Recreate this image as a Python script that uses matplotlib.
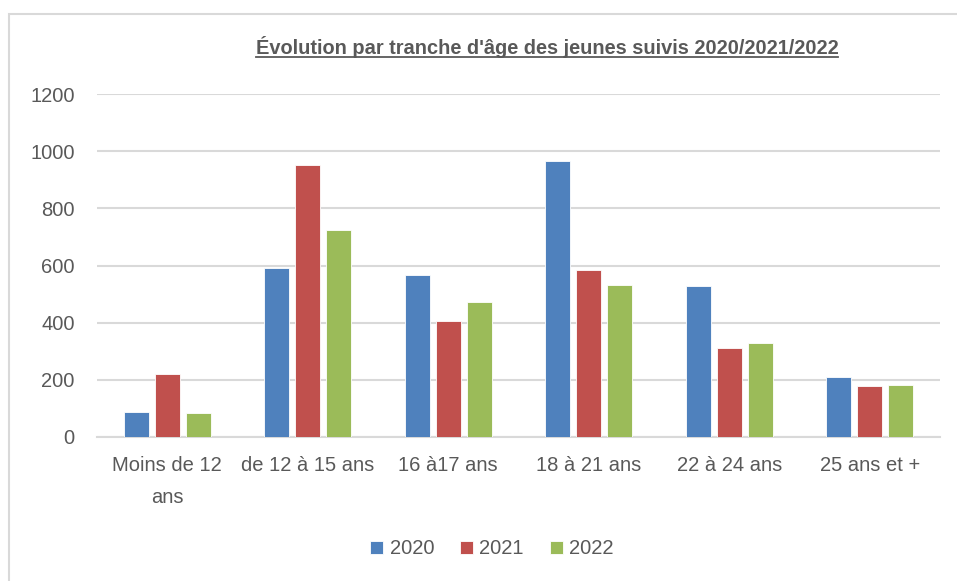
import numpy as np
import matplotlib.pyplot as plt
from matplotlib.lines import Line2D
from matplotlib.patches import Rectangle

categories = ['Moins de 12\nans', 'de 12 à 15 ans', '16 à17 ans', '18 à 21 ans', '22 à 24 ans', '25 ans et +']
years = ['2020', '2021', '2022']
v2020 = [89, 591, 567, 966, 528, 211]
v2021 = [220, 952, 406, 584, 310, 180]
v2022 = [85, 724, 471, 532, 330, 183]
colors = ['#4F81BD', '#C0504D', '#9BBB59']

txt = '#595959'
lbl_font = ['Liberation Sans', 'DejaVu Sans']
fs = 14.5

fig = plt.figure(figsize=(9.57, 5.81), dpi=100)
fig.patches.append(Rectangle((9 / 957, -0.1), 1.2, 1 - 14 / 581 + 0.1, transform=fig.transFigure,
                             fill=False, edgecolor='#D9D9D9', linewidth=1.5))
ax = fig.add_axes([97 / 957, 1 - 437 / 581, (940 - 97) / 957, (437 - 94) / 581])

x = np.arange(len(categories))
width = 0.178
step = 0.221
for i, (vals, c) in enumerate(zip([v2020, v2021, v2022], colors)):
    ax.bar(x + (i - 1) * step, vals, width, color=c, edgecolor='white', linewidth=0.6,
           label=years[i], zorder=3)

ax.set_xlim(-0.5, len(categories) - 0.5)
ax.set_ylim(0, 1200)
ax.set_yticks(range(0, 1201, 200))
ax.grid(axis='y', color='#D9D9D9', linewidth=1.5, zorder=0)
for s in ['top', 'right', 'left']:
    ax.spines[s].set_visible(False)
ax.spines['bottom'].set_color('#D9D9D9')
ax.spines['bottom'].set_linewidth(1.5)
ax.tick_params(length=0)
ax.set_xticks(x)
ax.set_xticklabels(categories, fontsize=fs, color=txt, family=lbl_font, linespacing=1.85)
ax.tick_params(axis='x', pad=14)
ax.tick_params(axis='y', pad=16)
for t in ax.get_yticklabels():
    t.set_fontsize(fs)
    t.set_color(txt)
    t.set_family(lbl_font)

leg = fig.legend(loc='center', bbox_to_anchor=(492 / 957, 1 - 549 / 581), ncol=3, frameon=False,
                 handlelength=0.65, handleheight=0.65, handletextpad=0.3, columnspacing=1.3,
                 prop={'family': lbl_font, 'size': fs})
for t in leg.get_texts():
    t.set_color(txt)

title = fig.text(547 / 957, 1 - 47 / 581, "Évolution par tranche d'âge des jeunes suivis 2020/2021/2022",
                 ha='center', va='center', fontsize=14.4, fontweight='bold', color=txt,
                 family=['Liberation Sans', 'DejaVu Sans'])
fig.canvas.draw()
bb = title.get_window_extent().transformed(fig.transFigure.inverted())
fig.lines.append(Line2D([bb.x0, bb.x1], [bb.y0 + 0.002, bb.y0 + 0.002], transform=fig.transFigure,
                        color=txt, linewidth=1.3))

plt.savefig('out.png', dpi=100)
